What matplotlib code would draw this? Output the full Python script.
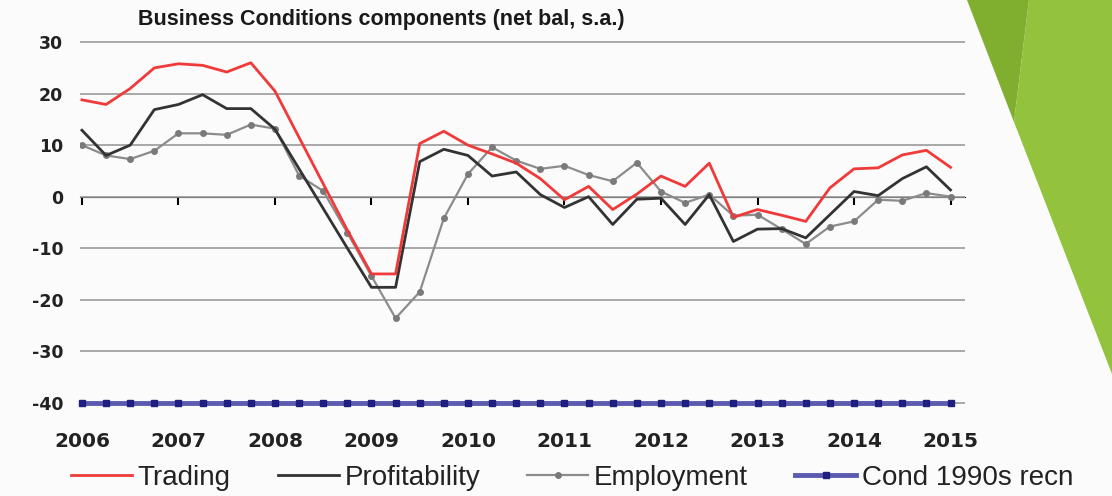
import numpy as np
import matplotlib
matplotlib.use("Agg")
import matplotlib.pyplot as plt
from matplotlib.patches import Polygon

# quarterly data, 2006 Q1 .. 2015 Q1 (net balance, s.a.)
quarters = np.arange(2006, 2015.01, 0.25)

trading = [18.8, 17.9, 21.0, 25.0, 25.8, 25.5, 24.2, 26.0, 20.5, 11.5,
           2.5, -6.5, -15.0, -15.0, 10.3, 12.7, 10.0, 8.3, 6.5, 3.5,
           -0.6, 2.0, -2.5, 0.5, 4.0, 2.0, 6.5, -4.0, -2.5, -3.6,
           -4.8, 1.7, 5.4, 5.6, 8.1, 9.0, 5.7]

profitability = [12.9, 8.0, 10.0, 16.9, 17.9, 19.8, 17.1, 17.1, 13.1, 5.4,
                 -2.3, -10.0, -17.6, -17.6, 6.8, 9.2, 8.0, 4.0, 4.8, 0.4,
                 -2.1, 0.0, -5.4, -0.5, -0.3, -5.4, 0.4, -8.7, -6.3, -6.2,
                 -8.0, -3.5, 1.0, 0.2, 3.5, 5.8, 1.3]

employment = [10.0, 8.0, 7.3, 8.9, 12.3, 12.3, 12.0, 14.0, 13.2, 4.1,
              1.1, -7.0, -15.4, -23.6, -18.5, -4.2, 4.4, 9.6, 7.0, 5.4,
              6.0, 4.2, 3.0, 6.6, 1.0, -1.2, 0.4, -3.7, -3.5, -6.3,
              -9.2, -5.8, -4.8, -0.6, -0.8, 0.7, 0.0]

cond_1990s = [-40, -40, -40, -40, -40, -40, -40, -40, -40, -40,
              -40, -40, -40, -40, -40, -40, -40, -40, -40, -40,
              -40, -40, -40, -40, -40, -40, -40, -40, -40, -40,
              -40, -40, -40, -40, -40, -40, -40]

years = list(range(2006, 2016))
yticks = [30, 20, 10, 0, -10, -20, -30, -40]

W, H = 1112, 496
fig = plt.figure(figsize=(W / 100, H / 100), dpi=100)
fig.patch.set_facecolor("#fbfbfb")

# green slide decoration on the right
fig.patches.append(Polygon([(967 / W, 1), (1029 / W, 1), (1014 / W, 1 - 122 / H)],
                           closed=True, transform=fig.transFigure,
                           facecolor="#80ae2f", edgecolor="none"))
fig.patches.append(Polygon([(1029 / W, 1), (1, 1), (1, 1 - 374 / H), (1014 / W, 1 - 122 / H)],
                           closed=True, transform=fig.transFigure,
                           facecolor="#93c23c", edgecolor="none"))

ymin, ymax = -42, 31
ax = fig.add_axes([80 / W, 1 - 413 / H, (965 - 80) / W, (413 - 37) / H])
ax.set_facecolor("none")

ax.plot(quarters, cond_1990s, color="#5b5bb0", lw=3.5, marker="s", ms=4,
        mfc="#1f1f80", mec="#1f1f80", clip_on=False, zorder=3)
ax.plot(quarters, employment, color="#8c8c8c", lw=1.6, marker="o", ms=4,
        mfc="#7a7a7a", mec="#7a7a7a", zorder=4)
ax.plot(quarters, profitability, color="#333333", lw=2.0, zorder=5)
ax.plot(quarters, trading, color="#f03a3a", lw=2.0, zorder=6)

ax.set_ylim(ymin, ymax)
ax.set_xlim(2005.98, 2015.15)
ax.set_yticks(yticks)
ax.set_yticklabels([str(v) for v in yticks])
ax.set_xticks(years)
ax.set_xticklabels([str(y) for y in years])
ax.grid(axis="y", color="#9a9a9a", lw=1.2)
ax.set_axisbelow(True)
for s in ax.spines.values():
    s.set_visible(False)
ax.tick_params(axis="y", length=0, pad=12, labelsize=12.5, labelcolor="#222222")
ax.tick_params(axis="x", length=0, pad=14, labelsize=14.5, labelcolor="#222222")
for lab in ax.get_xticklabels() + ax.get_yticklabels():
    lab.set_fontweight("bold")

# zero line with small year ticks
zero = ax.secondary_xaxis((0 - ymin) / (ymax - ymin))
zero.set_xticks(years)
zero.set_xticklabels([])
zero.tick_params(direction="in", length=6, width=1.5, color="black")
zero.spines["bottom"].set_linewidth(1.6)
zero.spines["bottom"].set_color("black")

fig.text(381 / W, 1 - 20 / H, "Business Conditions components (net bal, s.a.)",
         ha="center", va="center", fontsize=15.5, fontweight="bold",
         family="Liberation Sans", color="#1a1a1a")

handles = ax.get_lines()
leg = fig.legend([handles[3], handles[2], handles[1], handles[0]],
                 ["Trading", "Profitability", "Employment", "Cond 1990s recn"],
                 loc="center", bbox_to_anchor=(572 / W, 1 - 478 / H), ncol=4,
                 frameon=False, handlelength=2.2, handletextpad=0.2,
                 columnspacing=1.7, prop={"family": "Liberation Sans", "size": 20})
for t in leg.get_texts():
    t.set_color("#222222")

fig.savefig("out.png", dpi=100, facecolor=fig.get_facecolor())
